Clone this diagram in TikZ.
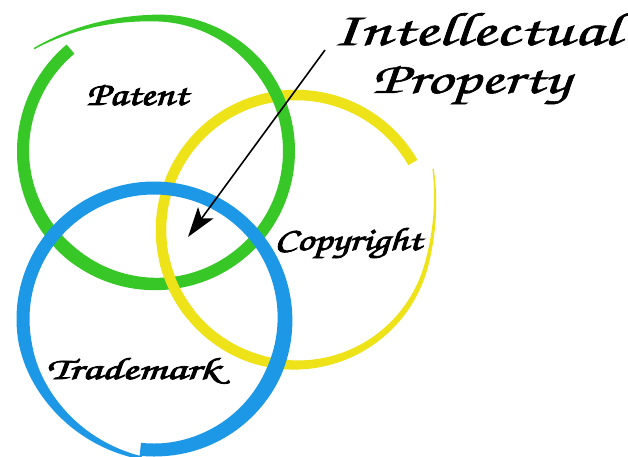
\documentclass[tikz,border=0pt]{standalone}
\usepackage{fontspec}
\usetikzlibrary{arrows.meta}
\newfontfamily\ipscript[FakeBold=1.2]{texgyrechorus-mediumitalic.otf}
\newfontfamily\ipscriptbold[FakeBold=2.5]{texgyrechorus-mediumitalic.otf}
\definecolor{ipgreen}{RGB}{55,200,40}
\definecolor{ipyellow}{RGB}{238,226,24}
\definecolor{ipblue}{RGB}{28,152,230}
\begin{document}
\begin{tikzpicture}[x=1pt,y=-1pt,
  declare function={
    gsp(\t)=0.0105*pow(max(0,\t-450),2);
    gw(\t)=min(12,12-(\t-400)*0.105)+2*max(0,1-abs(\t-230)/50);
    ysp(\t)=0.0099*pow(max(0,\t-345),2);
    yw(\t)=min(10.5,10.5-(\t-250)*0.068);
    bsp(\t)=0.0028*pow(max(0,\t-570),2);
    bw(\t)=min(13,13-(\t-550)*0.13)+3*max(0,1-abs(\t-335)/60);
  },
  title/.style={font=\ipscript, anchor=base, inner sep=0pt},
  label/.style={font=\ipscriptbold, anchor=base, inner sep=0pt},
  pointer/.style={line width=1.6pt, -{Stealth[length=30pt,width=19pt,inset=7pt]}}
]
\useasboundingbox (0,0) rectangle (628,456);
\fill[white] (0,0) rectangle (628,456);
% yellow ring (Copyright)
\fill[ipyellow] plot[variable=\t, domain=30:384, samples=180]
   ({296+(135+ysp(\t)+yw(\t)/2)*cos(\t)},{230-(135+ysp(\t)+yw(\t)/2)*sin(\t)})
 -- plot[variable=\t, domain=384:30, samples=180]
   ({296+(135+ysp(\t)-yw(\t)/2)*cos(\t)},{230-(135+ysp(\t)-yw(\t)/2)*sin(\t)}) -- cycle;
% green ring (Patent)
\fill[ipgreen] plot[variable=\t, domain=130:500, samples=180]
   ({156+(133+gsp(\t)+gw(\t)/2)*cos(\t)},{151-(133+gsp(\t)+gw(\t)/2)*sin(\t)})
 -- plot[variable=\t, domain=500:130, samples=180]
   ({156+(133+gsp(\t)-gw(\t)/2)*cos(\t)},{151-(133+gsp(\t)-gw(\t)/2)*sin(\t)}) -- cycle;
% yellow over green at the bottom crossing
\fill[ipyellow] plot[variable=\t, domain=192:218, samples=20]
   ({296+(135+yw(\t)/2)*cos(\t)},{230-(135+yw(\t)/2)*sin(\t)})
 -- plot[variable=\t, domain=218:192, samples=20]
   ({296+(135-yw(\t)/2)*cos(\t)},{230-(135-yw(\t)/2)*sin(\t)}) -- cycle;
% blue ring (Trademark)
\fill[ipblue] plot[variable=\t, domain=264:625, samples=180]
   ({154+(131+bsp(\t)+bw(\t)/2)*cos(\t)},{319-(131+bsp(\t)+bw(\t)/2)*sin(\t)})
 -- plot[variable=\t, domain=625:264, samples=180]
   ({154+(131+bsp(\t)-bw(\t)/2)*cos(\t)},{319-(131+bsp(\t)-bw(\t)/2)*sin(\t)}) -- cycle;
% texts
\node[title] (ip1) at (476,45) {\resizebox{288pt}{32pt}{Intellectual}};
\node[title] (ip2) at (471,93) {\resizebox{198pt}{27pt}{Property}};
\node[label] (patent) at (137,105) {\resizebox{101pt}{20pt}{Patent}};
\node[label] (copyright) at (348,250) {\resizebox{147pt}{22pt}{Copyright}};
\node[label] (trademark) at (133,379) {\resizebox{173pt}{21pt}{Trademark}};
% arrow
\coordinate (ipstart) at (325,50);
\coordinate (iptip) at (188,237);
\draw[pointer] (ipstart) -- (iptip);
\end{tikzpicture}
\end{document}
